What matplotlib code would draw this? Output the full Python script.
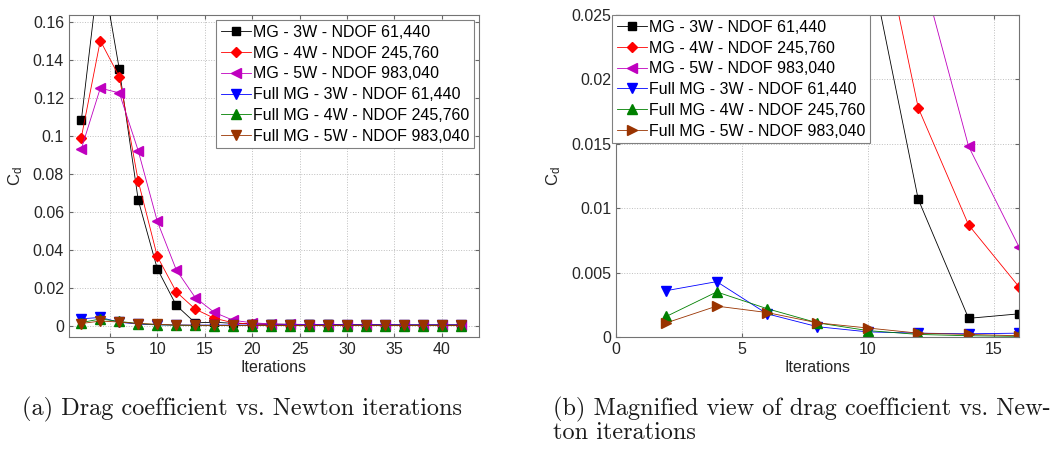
"""
Drag coefficient vs. Newton iterations, full view and magnified view.
"""

import numpy as np
import matplotlib
matplotlib.use("Agg")
import matplotlib.pyplot as plt
from matplotlib.ticker import FuncFormatter

# iteration numbers
iterations = [2, 4, 6, 8, 10, 12, 14, 16, 18, 20, 22, 24, 26, 28, 30,
              32, 34, 36, 38, 40, 42]

# drag coefficient per series
mg_3w = [0.108, 0.193, 0.135, 0.066, 0.030, 0.0107, 0.00145, 0.0018, 0.0012,
         0.0010, 0.0008, 0.0007, 0.0006, 0.0006, 0.0005, 0.0005, 0.0005,
         0.0004, 0.0004, 0.0004, 0.0004]
mg_4w = [0.099, 0.150, 0.131, 0.076, 0.0365, 0.0178, 0.0087, 0.0039, 0.0015,
         0.0008, 0.0005, 0.0004, 0.0003, 0.0003, 0.0003, 0.0002, 0.0002,
         0.0002, 0.0002, 0.0002, 0.0002]
mg_5w = [0.093, 0.125, 0.1225, 0.092, 0.055, 0.0294, 0.0148, 0.0070, 0.0028,
         0.0015, 0.0009, 0.0006, 0.0005, 0.0004, 0.0003, 0.0003, 0.0003,
         0.0002, 0.0002, 0.0002, 0.0002]
fmg_3w = [0.0036, 0.0043, 0.0018, 0.0008, 0.0004, 0.0003, 0.00025, 0.0003,
          0.0003, 0.0003, 0.0003, 0.0003, 0.0003, 0.0003, 0.0003, 0.0003,
          0.0003, 0.0003, 0.0003, 0.0003, 0.0003]
fmg_4w = [0.0016, 0.0035, 0.0022, 0.0011, 0.0005, 0.0002, 0.0001, 0.00005,
          0.00005, 0.00005, 0.00005, 0.00005, 0.00005, 0.00005, 0.00005,
          0.00005, 0.00005, 0.00005, 0.00005, 0.00005, 0.00005]
fmg_5w = [0.0011, 0.0024, 0.0019, 0.0011, 0.0007, 0.0003, 0.0002, 0.0001,
          0.0001, 0.0001, 0.0001, 0.0001, 0.0001, 0.0001, 0.0001, 0.0001,
          0.0001, 0.0001, 0.0001, 0.0001, 0.0001]

labels = ["MG - 3W - NDOF 61,440", "MG - 4W - NDOF 245,760",
          "MG - 5W - NDOF 983,040", "Full MG - 3W - NDOF 61,440",
          "Full MG - 4W - NDOF 245,760", "Full MG - 5W - NDOF 983,040"]

captions = ["(a) Drag coefficient vs. Newton iterations",
            "(b) Magnified view of drag coefficient vs. New-\nton iterations"]

plt.rcParams['font.family'] = ['Liberation Sans', 'DejaVu Sans']
plt.rcParams['font.size'] = 11.5

colors = ['k', 'r', 'm', 'b', (0, 0.5, 0), (0.6, 0.2, 0.0)]
series = [mg_3w, mg_4w, mg_5w, fmg_3w, fmg_4w, fmg_5w]
markers_a = ['s', 'D', '<', 'v', '^', 'v']
markers_b = ['s', 'D', '<', 'v', '^', '>']
sizes = [6, 5.5, 7.5, 7.5, 7.5, 7.5]


def fmt(v, pos):
    return "%g" % round(v, 6)


def style_axes(ax):
    ax.grid(True, linestyle=':', color='0.75', linewidth=0.7)
    ax.tick_params(direction='in', length=3, color='0.4', labelcolor='0.15',
                   top=True, right=True, labelsize=11.5)
    for sp in ax.spines.values():
        sp.set_color('0.45')
        sp.set_linewidth(0.8)
    ax.yaxis.set_major_formatter(FuncFormatter(fmt))
    ax.set_xlabel('Iterations', fontsize=11.5, color='0.15', labelpad=2)
    ax.set_ylabel(r'$\mathregular{C_d}$', fontsize=12, color='0.15', labelpad=6)


def draw(ax, markers):
    for vals, c, m, ms, lab in zip(series, colors, markers, sizes, labels):
        ax.plot(iterations, vals, '-', color=c, lw=0.6, marker=m, ms=ms,
                mfc=c, mec=c, label=lab)


def add_legend(ax, **kw):
    leg = ax.legend(borderaxespad=0, fancybox=False, framealpha=1,
                    edgecolor='0.5', fontsize=11.5, handlelength=1.9,
                    handletextpad=0.1, labelspacing=0.36, borderpad=0.3,
                    **kw)
    leg.get_frame().set_linewidth(0.8)
    return leg


fig = plt.figure(figsize=(10.58, 4.49), dpi=100)
ax1 = fig.add_axes([0.0652, 0.2494, 0.3875, 0.7172])
ax2 = fig.add_axes([0.5822, 0.2494, 0.3809, 0.7172])

draw(ax1, markers_a)
ax1.set_xlim(0.7, 43.9)
ax1.set_ylim(-0.006, 0.1635)
ax1.set_xticks(np.arange(5, 45, 5))
ax1.set_yticks(np.arange(0, 0.161, 0.02))
style_axes(ax1)
add_legend(ax1, loc='upper right', bbox_to_anchor=(0.988, 0.984))

draw(ax2, markers_b)
ax2.set_xlim(0, 16)
ax2.set_ylim(0, 0.025)
ax2.set_xticks([0, 5, 10, 15])
ax2.set_yticks(np.arange(0, 0.0251, 0.005))
style_axes(ax2)
add_legend(ax2, loc='upper left', bbox_to_anchor=(-0.01, 1.0))

cap_kw = dict(fontfamily='cmr10', fontsize=17.5, va='center', color='0.1')
fig.text(0.021, 0.087, captions[0], **cap_kw)
fig.text(0.523, 0.087, captions[1].split('\n')[0], **cap_kw)
fig.text(0.523, 0.036, captions[1].split('\n')[1], **cap_kw)

fig.savefig('out.png', dpi=100)
